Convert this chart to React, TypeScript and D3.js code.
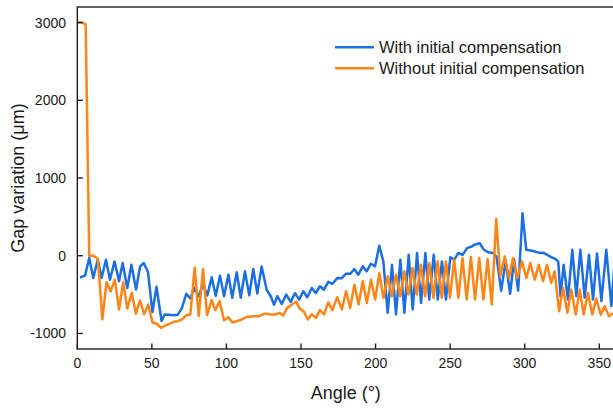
import React from 'react';
import * as d3 from 'd3';

const blueAngle = [1.8,5.2,8.0,10.7,13.7,16.3,19.2,21.9,25.0,28.0,30.4,33.5,36.3,39.4,42.1,44.6,47.4,50.4,53.1,56.5,58.6,61.3,64.6,67.3,70.2,73.1,75.8,78.5,81.4,84.3,87.2,90.1,92.8,95.7,98.4,101.3,103.9,106.9,109.6,112.4,115.3,118.0,120.7,123.6,127.0,129.7,131.9,134.1,137.1,140.1,143.1,146.0,148.7,151.5,154.2,157.2,159.9,162.7,165.4,168.3,171.0,174.3,177.2,180.2,183.1,185.7,188.4,191.4,194.0,196.9,199.6,202.5,205.2,208.1,211.0,213.7,216.6,219.3,222.2,224.9,227.8,230.5,233.4,236.0,239.0,241.7,244.5,247.2,250.1,252.8,255.5,258.4,261.3,264.0,266.8,269.8,272.5,275.4,278.7,281.1,284.2,287.2,290.2,292.9,295.6,298.5,301.0,304.4,308.9,313.0,317.8,320.8,322.5,324.0,326.1,329.0,331.9,334.6,337.3,340.2,343.1,345.8,348.5,351.4,354.7,358.1,360.8];
const blueGap = [-280,-256,-30,-286,-51,-286,-51,-308,-73,-329,-94,-415,-116,-436,-137,-94,-210,-725,-400,-840,-755,-760,-765,-760,-670,-490,-550,-415,-520,-370,-510,-278,-515,-256,-520,-244,-540,-212,-540,-201,-510,-170,-485,-140,-440,-521,-630,-520,-620,-500,-595,-480,-565,-457,-535,-415,-480,-393,-437,-337,-363,-288,-290,-231,-231,-171,-244,-137,-201,-103,-137,128,-73,-735,-116,-756,-51,-735,13,-692,34,-607,34,-564,13,-564,-73,-564,-20,-50,35,10,98,115,145,160,80,45,35,-15,-450,-65,-490,-50,-450,547,77,68,43,34,-17,-45,-75,-520,-116,-564,77,-520,77,-540,13,-564,30,-585,77,-650,60];

const orangeAngle = [0,2.8,5.6,8.0,10.8,13.8,16.8,19.6,22.3,25.2,28.0,30.8,33.5,36.5,39.3,42.0,44.8,47.6,50.4,53.2,56.1,59.0,61.7,64.6,67.3,70.2,73.1,75.8,78.7,81.4,84.3,87.0,90.1,92.5,95.4,98.4,101.2,104.0,107.0,110.2,113.8,118.0,121.8,125.0,127.5,129.5,132.5,135.5,138.1,140.6,143.5,146.8,149.0,151.8,154.6,157.2,160.0,162.7,165.4,168.3,171.0,174.3,177.4,180.2,183.0,185.8,188.6,191.4,194.1,196.9,199.7,202.5,205.3,208.1,210.9,213.7,216.5,219.3,222.0,224.8,227.6,230.4,233.2,236.0,238.8,241.6,244.4,247.2,249.9,252.7,255.5,258.3,261.1,263.9,266.7,269.5,272.3,275.1,277.9,280.9,283.6,286.6,289.5,292.1,295.0,298.2,301.1,303.7,306.7,309.4,312.3,314.9,317.8,320.1,323.0,325.7,328.6,331.2,334.2,336.9,339.5,342.4,345.3,348.0,351.0,353.6,356.5,359.2];
const orangeGap = [3000,3000,2980,0,0,-40,-820,-340,-457,-308,-692,-340,-680,-478,-745,-575,-752,-628,-860,-875,-927,-897,-876,-850,-842,-820,-765,-756,-150,-778,-171,-765,-570,-700,-585,-830,-790,-858,-842,-820,-788,-778,-778,-750,-745,-756,-756,-735,-770,-671,-635,-590,-680,-714,-820,-752,-799,-700,-756,-600,-700,-534,-690,-457,-671,-372,-628,-329,-607,-308,-564,-222,-543,-265,-521,-244,-521,-201,-500,-158,-500,-115,-521,-94,-543,-73,-543,-73,-543,-51,-543,-30,-564,-17,-564,-30,-564,-43,-628,474,-265,-9,-286,-30,-286,-73,-286,-94,-308,-116,-329,-116,-350,-201,-714,-415,-735,-436,-756,-436,-756,-479,-756,-550,-760,-650,-780,-740];

const xTicks = [0, 50, 100, 150, 200, 250, 300, 350];
const yTicks = [-1000, 0, 1000, 2000, 3000];
const seriesNames = ['With initial compensation', 'Without initial compensation'];
const seriesColors = ['#1c6fe0', '#ff8517'];

const FONT = '"Liberation Sans", Arial, Helvetica, sans-serif';

export default function App() {
  const W = 613, H = 408;
  const left = 77.3, top = 7, bottom = 349;
  const x = d3.scaleLinear().domain([0, 360]).range([left, left + 360 * 1.4914]);
  const y = d3.scaleLinear().domain([-1200, 3200]).range([bottom, top]);
  const line = d3.line<[number, number]>().x(d => x(d[0])).y(d => y(d[1]));
  const blue = blueAngle.map((a, i) => [a, blueGap[i]] as [number, number]);
  const orange = orangeAngle.map((a, i) => [a, orangeGap[i]] as [number, number]);
  const right = x(360);
  const axisColor = '#1e1e1e';
  return (
    <svg width={W} height={H} style={{ position: 'absolute', left: 0, top: 0, background: '#fff' }} fontFamily={FONT}>
      <rect x={0} y={0} width={W} height={H} fill="#fff" />
      <path d={line(blue) || ''} fill="none" stroke={seriesColors[0]} strokeWidth={2.5} strokeLinejoin="round" />
      <path d={line(orange) || ''} fill="none" stroke={seriesColors[1]} strokeWidth={2.5} strokeLinejoin="round" />
      <rect x={left} y={top} width={right - left} height={bottom - top} fill="none" stroke={axisColor} strokeWidth={1.4} />
      {xTicks.map(t => (
        <g key={'x' + t}>
          <line x1={x(t)} x2={x(t)} y1={bottom} y2={bottom - 5.5} stroke={axisColor} strokeWidth={1.4} />
          <text x={x(t)} y={368} textAnchor="middle" fontSize={14} fill="#1a1a1a">{t}</text>
        </g>
      ))}
      {yTicks.map(t => (
        <g key={'y' + t}>
          <line x1={left} x2={left + 5.5} y1={y(t)} y2={y(t)} stroke={axisColor} strokeWidth={1.4} />
          <text x={66} y={y(t) + 5} textAnchor="end" fontSize={14} fill="#1a1a1a">{t}</text>
        </g>
      ))}
      <text x={(left + right) / 2} y={399} textAnchor="middle" fontSize={18} fill="#1a1a1a">Angle (°)</text>
      <text transform={`translate(24,${(top + bottom) / 2}) rotate(-90)`} textAnchor="middle" fontSize={18} fill="#1a1a1a">Gap variation (μm)</text>
      {seriesNames.map((n, i) => (
        <g key={n}>
          <line x1={335} x2={374} y1={47.3 + i * 21} y2={47.3 + i * 21} stroke={seriesColors[i]} strokeWidth={2.5} />
          <text x={379} y={47.3 + i * 21 + 5.8} fontSize={16.5} fill="#1a1a1a">{n}</text>
        </g>
      ))}
    </svg>
  );
}
